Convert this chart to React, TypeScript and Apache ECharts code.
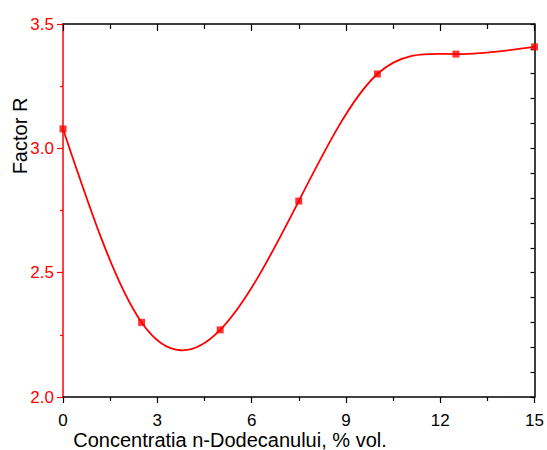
import React, { useEffect, useRef } from "react";
import * as echarts from "echarts";

const concentrations = [0, 2.5, 5, 7.5, 10, 12.5, 15];
const factorR = [3.078, 2.3, 2.27, 2.788, 3.299, 3.379, 3.408];
const xTicks = [0, 3, 6, 9, 12, 15];
const yTicks = [2.0, 2.5, 3.0, 3.5];

const RED = "#ff0000";
const FONT = "Liberation Sans, Arial, sans-serif";

// Natural cubic spline node slopes (curve rendering through the data points)
function splineSlopes(xs: number[], ys: number[]): number[] {
  const n = xs.length - 1;
  const h: number[] = [];
  for (let i = 0; i < n; i++) h.push(xs[i + 1] - xs[i]);
  const M = new Array(n + 1).fill(0);
  const a: number[] = [], b: number[] = [], c: number[] = [], d: number[] = [];
  for (let i = 1; i < n; i++) {
    a.push(h[i - 1]);
    b.push(2 * (h[i - 1] + h[i]));
    c.push(h[i]);
    d.push(6 * ((ys[i + 1] - ys[i]) / h[i] - (ys[i] - ys[i - 1]) / h[i - 1]));
  }
  const m = b.length;
  const cp = new Array(m).fill(0), dp = new Array(m).fill(0);
  for (let i = 0; i < m; i++) {
    const den = b[i] - (i > 0 ? a[i] * cp[i - 1] : 0);
    cp[i] = c[i] / den;
    dp[i] = (d[i] - (i > 0 ? a[i] * dp[i - 1] : 0)) / den;
  }
  for (let i = m - 1; i >= 0; i--) {
    M[i + 1] = dp[i] - (i < m - 1 ? cp[i] * M[i + 2] : 0);
  }
  const slopes: number[] = [];
  for (let i = 0; i < n; i++) {
    slopes.push((ys[i + 1] - ys[i]) / h[i] - (h[i] * (2 * M[i] + M[i + 1])) / 6);
  }
  slopes.push((ys[n] - ys[n - 1]) / h[n - 1] + (h[n - 1] * (2 * M[n] + M[n - 1])) / 6);
  return slopes;
}

export default function App() {
  const ref = useRef<HTMLDivElement>(null);
  useEffect(() => {
    if (!ref.current) return;
    const chart = echarts.init(ref.current, undefined, { renderer: "svg" });
    const data = concentrations.map((x, i) => [x, factorR[i]]);
    const slopes = splineSlopes(concentrations, factorR);
    chart.setOption({
      animation: false,
      backgroundColor: "#ffffff",
      grid: { left: 63, right: 9, top: 24, bottom: 53, containLabel: false },
      xAxis: [
        {
          type: "value",
          position: "bottom",
          min: xTicks[0],
          max: xTicks[xTicks.length - 1],
          interval: 3,
          axisLine: { show: true, lineStyle: { color: "#000", width: 1.5 } },
          axisTick: { show: true, inside: false, length: 6, lineStyle: { color: "#000", width: 1.2 } },
          minorTick: { show: true, splitNumber: 2, length: 4, lineStyle: { color: "#000", width: 1.2 } },
          axisLabel: { fontFamily: FONT, fontSize: 17, color: "#000", margin: 15 },
          splitLine: { show: false },
        },
        {
          type: "value",
          position: "top",
          min: xTicks[0],
          max: xTicks[xTicks.length - 1],
          interval: 3,
          axisLine: { show: true, lineStyle: { color: "#000", width: 1.5 } },
          axisTick: { show: true, inside: true, length: 7, lineStyle: { color: "#000", width: 1.2 } },
          minorTick: { show: true, splitNumber: 2, length: 5, lineStyle: { color: "#000", width: 1.2 } },
          axisLabel: { show: false },
          splitLine: { show: false },
        },
      ],
      yAxis: [
        {
          type: "value",
          position: "left",
          min: yTicks[0],
          max: yTicks[yTicks.length - 1],
          interval: 0.5,
          axisLine: { show: true, lineStyle: { color: RED, width: 1.5 } },
          axisTick: { show: true, inside: false, length: 6, lineStyle: { color: RED, width: 1.2 } },
          minorTick: { show: true, splitNumber: 2, length: 3, lineStyle: { color: RED, width: 1.2 } },
          axisLabel: {
            fontFamily: FONT,
            fontSize: 17,
            color: RED,
            margin: 9,
            formatter: (v: number) => v.toFixed(1),
          },
          splitLine: { show: false },
        },
        {
          type: "value",
          position: "right",
          min: 0,
          max: 15,
          interval: 1,
          axisLine: { show: true, onZero: false, lineStyle: { color: "#000", width: 1.5 } },
          axisTick: { show: true, inside: true, length: 4, lineStyle: { color: "#000", width: 1.2 } },
          axisLabel: { show: false },
          splitLine: { show: false },
        },
      ],
      graphic: [
        {
          type: "text",
          x: 20,
          y: 136,
          rotation: Math.PI / 2,
          style: {
            text: "Factor R",
            fontFamily: FONT,
            fontSize: 20,
            fill: "#000",
            align: "center",
            verticalAlign: "middle",
          },
        },
        {
          type: "text",
          x: 230,
          y: 440,
          style: {
            text: "Concentratia n-Dodecanului, % vol.",
            fontFamily: FONT,
            fontSize: 20,
            fill: "#000",
            align: "center",
            verticalAlign: "middle",
          },
        },
      ],
      series: [
        {
          type: "custom",
          xAxisIndex: 0,
          yAxisIndex: 0,
          data,
          z: 2,
          silent: true,
          renderItem: (params: any, api: any) => {
            const i = params.dataIndex;
            if (i >= concentrations.length - 1) return null;
            const x0 = concentrations[i], x1 = concentrations[i + 1];
            const y0 = factorR[i], y1 = factorR[i + 1];
            const h = (x1 - x0) / 3;
            const p0 = api.coord([x0, y0]);
            const c1 = api.coord([x0 + h, y0 + h * slopes[i]]);
            const c2 = api.coord([x1 - h, y1 - h * slopes[i + 1]]);
            const p1 = api.coord([x1, y1]);
            return {
              type: "bezierCurve",
              shape: {
                x1: p0[0], y1: p0[1],
                cpx1: c1[0], cpy1: c1[1],
                cpx2: c2[0], cpy2: c2[1],
                x2: p1[0], y2: p1[1],
              },
              style: { stroke: RED, lineWidth: 1.8, fill: null },
            };
          },
        },
        {
          type: "scatter",
          xAxisIndex: 0,
          yAxisIndex: 0,
          data,
          z: 3,
          symbol: "rect",
          symbolSize: 7,
          itemStyle: { color: RED },
          clip: false,
        },
      ],
    });
    return () => chart.dispose();
  }, []);
  return (
    <div
      ref={ref}
      style={{ position: "fixed", left: 0, top: 0, width: 547, height: 450, background: "#fff" }}
    />
  );
}
